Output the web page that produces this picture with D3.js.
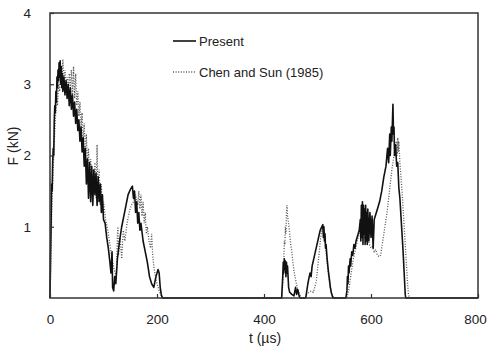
<!DOCTYPE html>
<html><head><meta charset="utf-8">
<script src="https://cdn.jsdelivr.net/npm/d3@7"></script>
<style>
html,body{margin:0;padding:0;background:#fff;}
svg text{font-family:"Liberation Sans",Arial,Helvetica,sans-serif;fill:#222;}
</style></head>
<body><svg id="c" width="487" height="350"></svg>
<script>
// ---- data ----
const xTicks = [0, 200, 400, 600, 800];
const yLabelTicks = [1, 2, 3, 4];
const seriesNames = ["Present", "Chen and Sun (1985)"];

const presentT = [0,1,2,3,4,5,6,7,8,9,10,11,12,13,14,15,16,17,18,19,20,21,22,23,24,26,28,30,32,34,36,38,40,42,44,46,48,50,52,54,56,58,60,62,64,66,68,70,72,74,76,78,80,82,84,86,88,90,92,94,96,98,100,103,106,109,112,114,116,117,119,121,123,126,130,134,138,142,146,150,154,156,158,160,162,164,166,168,170,174,178,182,186,190,194,198,202,204,206,208,210,
  433,435,436,437,438,439,440,441,442,443,444,446,448,452,456,459,461,463,466,468,
  478,480,482,484,486,488,490,493,496,499,502,505,508,510,511,512,513,514,515,516,518,520,522,524,526,529,
  553,555,556,557,558,559,561,562,564,566,568,570,572,574,576,578,580,581,582,583,584,585,586,587,588,589,590,591,592,593,594,596,598,600,602,604,606,608,612,616,620,624,628,631,633,635,636,638,639,641,642,643,644,646,648,650,652,654,656,658,660,662,664,665,800];
const presentF = [0,0.55,1.0,1.6,1.5,1.9,2.1,2.0,2.5,2.7,2.6,2.9,2.75,3.1,2.95,3.2,3.05,3.3,3.1,3.33,3.0,3.25,2.95,3.15,2.9,3.1,2.85,3.05,2.8,3.0,2.7,2.95,2.65,2.85,2.55,2.75,2.45,2.65,2.35,2.5,2.2,2.4,2.05,2.25,1.85,2.1,1.6,1.95,1.4,1.9,1.35,1.85,1.3,1.8,1.45,1.75,1.3,1.7,1.35,1.6,1.2,1.45,1.1,1.05,0.85,0.7,0.5,0.35,0.65,0.15,0.1,0.3,0.2,0.55,0.8,1.0,1.15,1.3,1.45,1.52,1.57,1.4,1.5,1.2,1.35,1.05,1.2,0.95,1.05,0.8,0.65,0.5,0.3,0.2,0.15,0.3,0.4,0.35,0.15,0.05,0,
  0,0.3,0.5,0.35,0.55,0.4,0.52,0.3,0.5,0.35,0.45,0.15,0.08,0.05,0.03,0.15,0.05,0.12,0.02,0,
  0,0.1,0.2,0.28,0.35,0.3,0.45,0.55,0.65,0.75,0.85,0.95,1.0,1.03,0.85,1.0,0.8,0.9,0.7,0.75,0.55,0.4,0.28,0.15,0.07,0,
  0,0.1,0.3,0.2,0.45,0.35,0.55,0.45,0.65,0.6,0.75,0.7,0.8,0.85,0.9,0.95,1.1,0.8,1.3,0.85,1.35,0.75,1.3,0.9,1.25,0.75,1.3,0.8,1.2,0.75,1.25,0.8,1.2,0.85,1.15,0.7,1.1,1.15,1.25,1.35,1.5,1.7,1.85,2.1,1.9,2.3,2.0,2.4,2.2,2.72,2.3,2.4,2.0,2.15,1.85,1.9,1.55,1.4,1.15,0.9,0.65,0.35,0.05,0,0];

const chenT = [0,1,2,3,4,5,6,8,10,12,14,16,18,20,22,24,26,28,30,32,34,36,38,40,42,44,46,48,50,52,54,56,58,60,62,64,66,68,70,72,74,76,78,80,82,84,86,88,90,92,94,96,98,100,104,108,112,116,120,124,126,127,128,131,134,137,140,144,148,152,156,160,164,166,168,170,172,174,176,178,180,182,185,188,190,192,194,197,200,204,208,212,
  433,435,437,438,439,440,441,442,443,444,446,448,450,452,454,456,458,460,463,466,470,
  477,480,484,488,492,495,498,500,502,504,506,508,510,512,514,516,518,520,522,524,527,530,
  555,558,561,564,567,570,573,576,579,582,585,588,591,594,597,600,603,606,609,612,615,618,621,624,627,630,633,636,639,642,645,647,649,650,651,652,654,656,658,660,662,664,666,668,670,672];
const chenF = [0,0.3,0.7,1.1,1.4,1.55,1.8,2.2,2.5,2.8,2.7,3.0,2.9,3.2,3.0,3.35,3.05,3.2,2.95,3.1,2.9,3.15,2.95,3.2,2.85,3.25,2.8,3.15,2.7,2.9,2.55,2.75,2.4,2.6,2.2,2.45,2.0,2.3,1.8,2.1,1.6,1.95,1.5,1.8,1.45,1.9,1.4,2.15,1.35,1.8,1.3,1.6,1.2,1.35,1.1,0.95,0.75,0.55,0.4,0.3,0.9,1.0,0.6,0.85,0.55,0.95,0.8,1.05,1.2,1.3,1.35,1.45,1.3,1.5,1.25,1.45,1.15,1.35,1.05,1.2,0.9,1.0,0.8,0.7,0.9,0.6,0.45,0.3,0.2,0.1,0.03,0,
  0,0.2,0.5,0.8,0.75,1.0,0.9,1.2,1.3,1.15,1.05,0.9,0.75,0.65,0.5,0.38,0.3,0.22,0.12,0.06,0,
  0,0.05,0.08,0.1,0.08,0.15,0.25,0.4,0.55,0.7,0.85,0.95,1.0,0.9,0.8,0.65,0.5,0.35,0.25,0.15,0.05,0,
  0,0.1,0.25,0.4,0.55,0.65,0.75,0.85,0.95,1.0,0.9,0.85,0.8,0.85,0.75,0.7,0.72,0.65,0.68,0.6,0.58,0.6,0.75,0.9,1.05,1.2,1.4,1.6,1.8,1.95,2.1,2.2,2.0,2.25,2.05,2.2,1.9,1.7,1.5,1.25,1.0,0.75,0.5,0.25,0.05,0];

// ---- drawing ----
const svg = d3.select("#c");
const x = d3.scaleLinear().domain([0, 800]).range([50, 478]);
const y = d3.scaleLinear().domain([0, 4]).range([298, 13]);

const present = presentT.map((t, i) => [t, presentF[i]]);
const chen = chenT.map((t, i) => [t, chenF[i]]);
const line = d3.line().x(d => x(d[0])).y(d => y(d[1]));

svg.append("path").datum(chen).attr("d", line)
  .attr("fill", "none").attr("stroke", "#555").attr("stroke-width", 1.3)
  .attr("stroke-dasharray", "1,1.6");
svg.append("path").datum(present).attr("d", line)
  .attr("fill", "none").attr("stroke", "#111").attr("stroke-width", 1.6)
  .attr("stroke-linejoin", "round");

// frame
svg.append("rect").attr("x", x(0)).attr("y", y(4))
  .attr("width", x(800) - x(0)).attr("height", y(0) - y(4))
  .attr("fill", "none").attr("stroke", "#333").attr("stroke-width", 1.5);

// axes (inward ticks)
const xAxis = svg.append("g").attr("transform", `translate(0,${y(0)})`)
  .call(d3.axisBottom(x).tickValues(xTicks).tickSize(-4).tickPadding(16).tickFormat(d3.format("d")));
const yAxis = svg.append("g").attr("transform", `translate(${x(0)},0)`)
  .call(d3.axisLeft(y).tickValues(yLabelTicks).tickSize(-4).tickPadding(19).tickFormat(d3.format("d")));
[xAxis, yAxis].forEach(g => {
  g.select(".domain").remove();
  g.selectAll(".tick line").attr("stroke", "#333").attr("stroke-width", 1.2);
  g.selectAll(".tick text").attr("font-size", 13.5).attr("fill", "#222")
   .attr("font-family", "'Liberation Sans',Arial,sans-serif");
});
xAxis.selectAll(".tick text").filter(d => d === 800).attr("dx", -3);

// axis titles
svg.append("text").attr("x", 265).attr("y", 343).attr("text-anchor", "middle")
  .attr("font-size", 14).text("t (\u00b5s)");
svg.append("text").attr("transform", "translate(18,146) rotate(-90)")
  .attr("text-anchor", "middle").attr("font-size", 14).text("F (kN)");

// legend
const leg = svg.append("g");
leg.append("line").attr("x1", 173).attr("x2", 196).attr("y1", 41).attr("y2", 41)
  .attr("stroke", "#111").attr("stroke-width", 1.6);
leg.append("text").attr("x", 199).attr("y", 46).attr("font-size", 13).text(seriesNames[0]);
leg.append("line").attr("x1", 173).attr("x2", 196).attr("y1", 72).attr("y2", 72)
  .attr("stroke", "#555").attr("stroke-width", 1.3).attr("stroke-dasharray", "1,1.6");
leg.append("text").attr("x", 199).attr("y", 77).attr("font-size", 13).text(seriesNames[1]);
</script></body></html>
